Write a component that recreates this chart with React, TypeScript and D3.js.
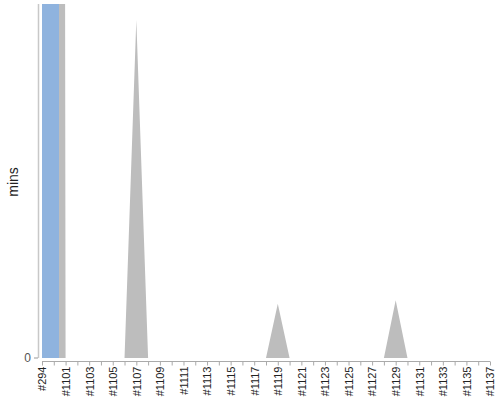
import React, { useEffect, useRef } from 'react';
import * as d3 from 'd3';

// build ids shown on the x axis
const categories = ['#294', ...d3.range(1100, 1138).map(n => `#${n}`)];
// grey area series (minutes), first two builds go off the scale
const areaValues = [
  1500, 1500, 0, 0, 0, 0, 0, 0, 57.3, 0,
  0, 0, 0, 0, 0, 0, 0, 0, 0, 0,
  9.2, 0, 0, 0, 0, 0, 0, 0, 0, 0,
  9.8, 0, 0, 0, 0, 0, 0, 0, 0,
];
// blue bar series, only the first build has a value
const barValues = [1500, ...new Array(38).fill(0)];
const yTicks = [0];
const yLabel = 'mins';

const App: React.FC = () => {
  const ref = useRef<SVGSVGElement>(null);

  useEffect(() => {
    const svg = d3.select(ref.current);
    svg.selectAll('*').remove();

    const top = 4;
    const base = 358;

    const x = d3.scalePoint<string>().domain(categories).range([42, 490]);
    const y = d3.scaleLinear().domain([0, 60]).range([base, top]);

    svg.append('defs').append('clipPath').attr('id', 'plot')
      .append('rect').attr('x', 40).attr('y', top).attr('width', 460).attr('height', base - top);

    const plot = svg.append('g').attr('clip-path', 'url(#plot)');

    const area = d3.area<number>()
      .x((_, i) => x(categories[i]) as number)
      .y0(base)
      .y1(d => y(d));

    plot.append('path')
      .datum(areaValues)
      .attr('d', area)
      .attr('fill', '#bdbdbd');

    plot.selectAll('rect.bar')
      .data(barValues.map((v, i) => ({ v, c: categories[i] })).filter(d => d.v > 0))
      .enter()
      .append('rect')
      .attr('class', 'bar')
      .attr('x', d => x(d.c) as number)
      .attr('y', d => y(d.v))
      .attr('width', 17)
      .attr('height', d => base - y(d.v))
      .attr('fill', '#8fb3de');

    // y axis
    svg.append('line')
      .attr('x1', 38.5).attr('x2', 38.5).attr('y1', top).attr('y2', base)
      .attr('stroke', '#c8c8c8').attr('stroke-width', 1.5);

    const yg = svg.append('g');
    yg.selectAll('line')
      .data(yTicks)
      .enter()
      .append('line')
      .attr('x1', 34).attr('x2', 38)
      .attr('y1', d => y(d)).attr('y2', d => y(d))
      .attr('stroke', '#999');
    yg.selectAll('text')
      .data(yTicks)
      .enter()
      .append('text')
      .attr('x', 31)
      .attr('y', d => y(d))
      .attr('dy', '0.35em')
      .attr('text-anchor', 'end')
      .attr('font-family', 'Liberation Sans, Arial, sans-serif')
      .attr('font-size', 12)
      .attr('fill', '#555')
      .text(d => String(d));

    svg.append('text')
      .attr('transform', 'translate(18,182) rotate(-90)')
      .attr('text-anchor', 'middle')
      .attr('font-family', 'Liberation Sans, Arial, sans-serif')
      .attr('font-size', 14)
      .attr('fill', '#222')
      .text(yLabel);

    // x axis
    const xAxis = d3.axisBottom(x)
      .tickSize(4)
      .tickFormat((d, i) => (i % 2 === 0 ? d : ''));

    const xg = svg.append('g')
      .attr('transform', 'translate(0,361.5)')
      .call(xAxis);
    xg.select('.domain').attr('stroke', '#aaa').attr('d', 'M42,0H490');
    xg.selectAll('.tick line').attr('stroke', '#aaa');
    xg.selectAll('.tick text')
      .attr('transform', 'rotate(-90)')
      .attr('x', -5)
      .attr('y', 0)
      .attr('dy', '0.35em')
      .attr('text-anchor', 'end')
      .attr('font-family', 'Liberation Sans, Arial, sans-serif')
      .attr('font-size', 11)
      .attr('fill', '#222');
  }, []);

  return (
    <svg
      ref={ref}
      width={500}
      height={400}
      style={{ position: 'absolute', left: 0, top: 0, background: '#fff' }}
    />
  );
};

export default App;
